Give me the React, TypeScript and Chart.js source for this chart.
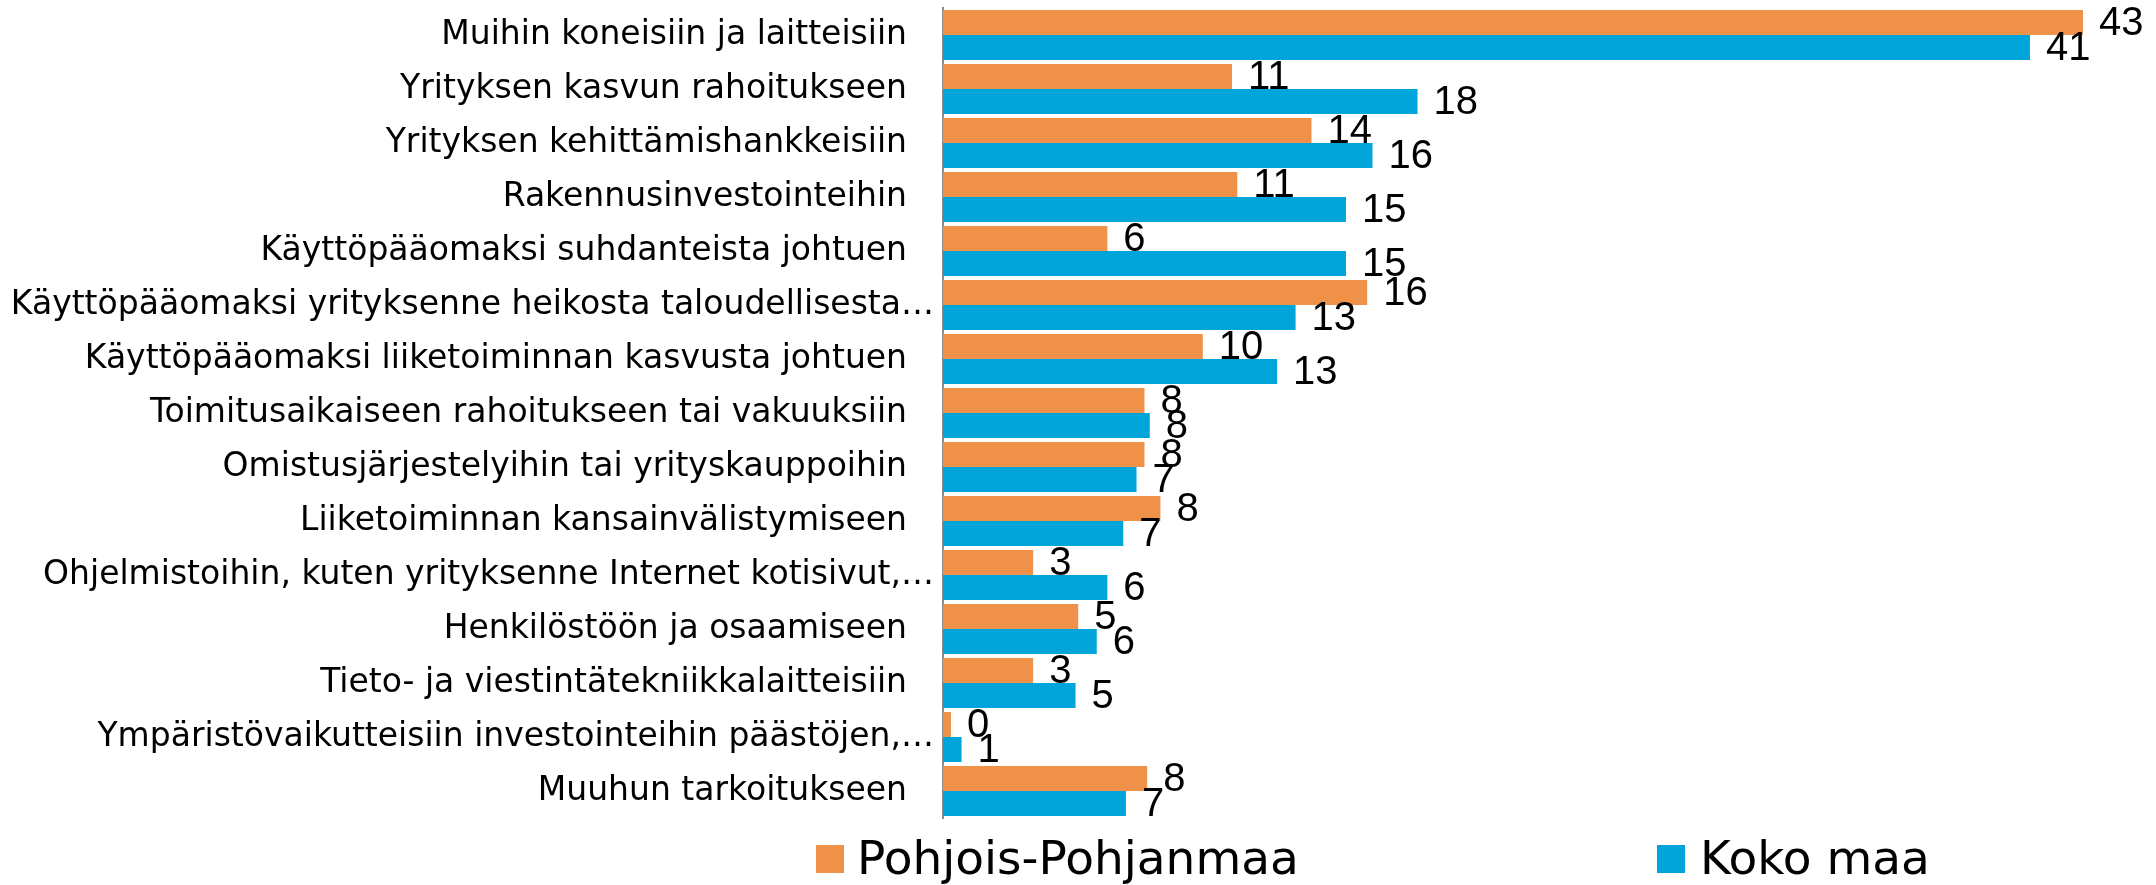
import React, { useEffect, useRef } from "react";
import { Chart, registerables } from "chart.js";

Chart.register(...registerables);

const categories = [
  "Muihin koneisiin ja laitteisiin",
  "Yrityksen kasvun rahoitukseen",
  "Yrityksen kehittämishankkeisiin",
  "Rakennusinvestointeihin",
  "Käyttöpääomaksi suhdanteista johtuen",
  "Käyttöpääomaksi yrityksenne heikosta taloudellisesta…",
  "Käyttöpääomaksi liiketoiminnan kasvusta johtuen",
  "Toimitusaikaiseen rahoitukseen tai vakuuksiin",
  "Omistusjärjestelyihin tai yrityskauppoihin",
  "Liiketoiminnan kansainvälistymiseen",
  "Ohjelmistoihin, kuten yrityksenne Internet kotisivut,…",
  "Henkilöstöön ja osaamiseen",
  "Tieto- ja viestintätekniikkalaitteisiin",
  "Ympäristövaikutteisiin investointeihin päästöjen,…",
  "Muuhun tarkoitukseen",
];

const seriesNames = ["Pohjois-Pohjanmaa", "Koko maa"];
const seriesColors = ["#F0914A", "#02A5DA"];

const pohjoisPohjanmaa = [43, 10.9, 13.9, 11.1, 6.2, 16.0, 9.8, 7.6, 7.6, 8.2, 3.4, 5.1, 3.4, 0.3, 7.7];
const kokoMaa = [41, 17.9, 16.2, 15.2, 15.2, 13.3, 12.6, 7.8, 7.3, 6.8, 6.2, 5.8, 5.0, 0.7, 6.9];

const xMin = 0;
const xMax = 45;

const valueLabels = {
  id: "valueLabels",
  afterDatasetsDraw(chart: any) {
    const ctx = chart.ctx;
    ctx.save();
    ctx.font = "40px 'Liberation Sans'";
    ctx.fillStyle = "#000000";
    ctx.textAlign = "left";
    ctx.textBaseline = "middle";
    chart.data.datasets.forEach((ds: any, di: number) => {
      const meta = chart.getDatasetMeta(di);
      meta.data.forEach((el: any, i: number) => {
        const v = ds.data[i];
        ctx.fillText(String(Math.round(v)), el.x + 16, el.y + 1);
      });
    });
    ctx.restore();
  },
};

export default function App() {
  const canvasRef = useRef<HTMLCanvasElement | null>(null);

  useEffect(() => {
    if (!canvasRef.current) return;
    const chart = new Chart(canvasRef.current, {
      type: "bar",
      data: {
        labels: categories,
        datasets: [
          {
            label: seriesNames[0],
            data: pohjoisPohjanmaa,
            backgroundColor: seriesColors[0],
            categoryPercentage: 50 / 54,
            barPercentage: 1,
          },
          {
            label: seriesNames[1],
            data: kokoMaa,
            backgroundColor: seriesColors[1],
            categoryPercentage: 50 / 54,
            barPercentage: 1,
          },
        ],
      },
      options: {
        indexAxis: "y",
        responsive: true,
        maintainAspectRatio: false,
        animation: false,
        layout: { padding: { top: 8, bottom: 67, left: 0, right: 20 } },
        plugins: {
          legend: { display: false },
          tooltip: { enabled: false },
        },
        scales: {
          x: {
            display: false,
            min: xMin,
            max: xMax,
          },
          y: {
            type: "category",
            grid: { display: false, drawTicks: false },
            border: { display: true, color: "#8C8C8C", width: 2 },
            ticks: {
              padding: 9,
              color: "#000000",
              font: { family: "'DejaVu Sans'", size: 33 },
              autoSkip: false,
              callback: function (this: any, value: any) {
                const label = String(this.getLabelForValue(value));
                return label.endsWith("…") ? label : label + "\u2002 ";
              },
            },
            afterFit: (scale: any) => {
              scale.width = 943;
              scale.paddingTop = 0;
              scale.paddingBottom = 0;
            },
          },
        },
      },
      plugins: [valueLabels],
    });
    return () => chart.destroy();
  }, []);

  const legendItems = [
    { box: 816, text: 857 },
    { box: 1657, text: 1700 },
  ];

  return (
    <div
      style={{
        position: "fixed",
        left: 0,
        top: 0,
        width: 2156,
        height: 885,
        background: "#ffffff",
      }}
    >
      <canvas ref={canvasRef} />
      {seriesNames.map((name, i) => (
        <React.Fragment key={name}>
          <div
            style={{
              position: "absolute",
              left: legendItems[i].box,
              top: 845,
              width: 28,
              height: 28,
              background: seriesColors[i],
            }}
          />
          <div
            style={{
              position: "absolute",
              left: legendItems[i].text,
              top: 834,
              fontFamily: "'DejaVu Sans'",
              fontSize: 47,
              lineHeight: "47px",
              color: "#000000",
              whiteSpace: "nowrap",
            }}
          >
            {name}
          </div>
        </React.Fragment>
      ))}
    </div>
  );
}
